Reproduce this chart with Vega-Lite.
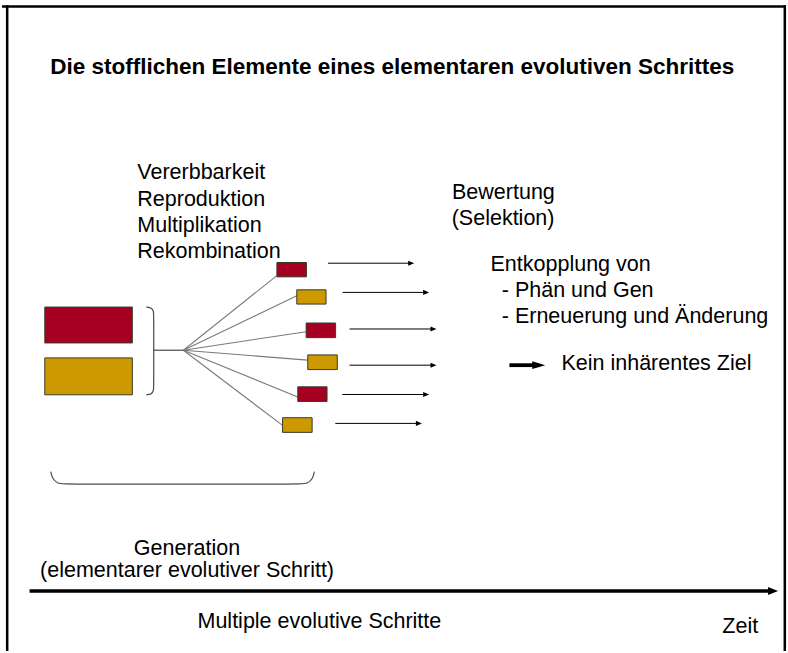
{
  "$schema": "https://vega.github.io/schema/vega-lite/v6.json",
  "width": 788,
  "height": 653,
  "padding": 0,
  "autosize": {"type": "fit", "contains": "padding"},
  "background": "white",
  "config": {"view": {"stroke": null}, "font": "Liberation Sans"},
  "datasets": {
    "frame": [
      {"x": 0, "y": 6.5, "x2": 788, "y2": 6.5},
      {"x": 5.2, "y": 5.3, "x2": 5.2, "y2": 653},
      {"x": 786.8, "y": 5.3, "x2": 786.8, "y2": 653}
    ],
    "rects": [
      {"x": 43, "y": 308, "x2": 131, "y2": 344, "kind": "rot"},
      {"x": 43, "y": 359, "x2": 131, "y2": 396, "kind": "gold"},
      {"x": 276.3, "y": 263.3, "x2": 306, "y2": 277.7, "kind": "rot"},
      {"x": 296.3, "y": 290.7, "x2": 325.7, "y2": 305, "kind": "gold"},
      {"x": 305.7, "y": 324, "x2": 335.3, "y2": 338.7, "kind": "rot"},
      {"x": 307.3, "y": 356, "x2": 337, "y2": 370.7, "kind": "gold"},
      {"x": 297.3, "y": 388, "x2": 326.7, "y2": 402.7, "kind": "rot"},
      {"x": 282, "y": 419, "x2": 311.7, "y2": 433.7, "kind": "gold"}
    ],
    "fan": [
      {"x": 182.3, "y": 351.3, "x2": 276.3, "y2": 276.5},
      {"x": 182.3, "y": 351.3, "x2": 296.3, "y2": 296.6},
      {"x": 182.3, "y": 351.3, "x2": 305.7, "y2": 332.7},
      {"x": 182.3, "y": 351.3, "x2": 307.3, "y2": 361.2},
      {"x": 182.3, "y": 351.3, "x2": 297.3, "y2": 398.2},
      {"x": 182.3, "y": 351.3, "x2": 282, "y2": 426.7}
    ],
    "brackets": [
      {"g": "rechts", "i": 1, "x": 145, "y": 308},
      {"g": "rechts", "i": 2, "x": 150.5, "y": 308.6},
      {"g": "rechts", "i": 3, "x": 152.5, "y": 312.5},
      {"g": "rechts", "i": 4, "x": 152.5, "y": 317},
      {"g": "rechts", "i": 5, "x": 152.5, "y": 387},
      {"g": "rechts", "i": 6, "x": 152.5, "y": 391.5},
      {"g": "rechts", "i": 7, "x": 150.5, "y": 395.4},
      {"g": "rechts", "i": 8, "x": 145, "y": 396},
      {"g": "unten", "i": 1, "x": 49, "y": 473},
      {"g": "unten", "i": 2, "x": 50.5, "y": 480},
      {"g": "unten", "i": 3, "x": 56, "y": 485.3},
      {"g": "unten", "i": 4, "x": 63, "y": 485.6},
      {"g": "unten", "i": 5, "x": 300, "y": 485.6},
      {"g": "unten", "i": 6, "x": 307, "y": 485.3},
      {"g": "unten", "i": 7, "x": 312.5, "y": 480},
      {"g": "unten", "i": 8, "x": 314, "y": 473},
      {"g": "steg", "i": 1, "x": 152.5, "y": 351.3},
      {"g": "steg", "i": 2, "x": 182.3, "y": 351.3}
    ],
    "arrows": [
      {"x": 327.7, "x2": 414.3, "y": 264},
      {"x": 342.3, "x2": 429.3, "y": 293.3},
      {"x": 349.3, "x2": 436.7, "y": 330},
      {"x": 349.3, "x2": 436.7, "y": 366.3},
      {"x": 342, "x2": 429.3, "y": 395.7},
      {"x": 335, "x2": 422, "y": 424.7}
    ],
    "timeaxis": [{"x": 27.7, "x2": 780, "y": 592.7}],
    "thick": [{"x": 510, "x2": 546, "y": 366.3}],
    "title": [{"x": 48.5, "y": 74, "text": "Die stofflichen Elemente eines elementaren evolutiven Schrittes"}],
    "textLeft": [
      {"x": 136, "y": 180, "text": "Vererbbarkeit"},
      {"x": 136, "y": 206.5, "text": "Reproduktion"},
      {"x": 136, "y": 233, "text": "Multiplikation"},
      {"x": 136, "y": 259, "text": "Rekombination"},
      {"x": 452.3, "y": 199.3, "text": "Bewertung"},
      {"x": 452, "y": 225.6, "text": "(Selektion)"},
      {"x": 491, "y": 271.5, "text": "Entkopplung von"},
      {"x": 502.3, "y": 297.7, "text": "- Phän und Gen"},
      {"x": 502.3, "y": 324, "text": "- Erneuerung und Änderung"},
      {"x": 562.3, "y": 371, "text": "Kein inhärentes Ziel"}
    ],
    "textCenter": [
      {"x": 186, "y": 557, "text": "Generation"},
      {"x": 186, "y": 579, "text": "(elementarer evolutiver Schritt)"},
      {"x": 319, "y": 630, "text": "Multiple evolutive Schritte"},
      {"x": 742, "y": 634.5, "text": "Zeit"}
    ]
  },
  "encoding": {
    "x": {"field": "x", "type": "quantitative", "axis": null, "scale": {"domain": [0, 788], "nice": false, "zero": false}},
    "y": {"field": "y", "type": "quantitative", "axis": null, "scale": {"domain": [0, 653], "nice": false, "zero": false, "reverse": true}}
  },
  "layer": [
    {
      "data": {"name": "frame"},
      "mark": {"type": "rule", "color": "black", "strokeWidth": 2.5, "strokeCap": "butt"},
      "encoding": {"x2": {"field": "x2"}, "y2": {"field": "y2"}}
    },
    {
      "data": {"name": "fan"},
      "mark": {"type": "rule", "color": "#7a7a7a", "strokeWidth": 1.1},
      "encoding": {"x2": {"field": "x2"}, "y2": {"field": "y2"}}
    },
    {
      "data": {"name": "brackets"},
      "mark": {"type": "line", "interpolate": "basis", "color": "#4a4a4a", "strokeWidth": 1.2},
      "encoding": {"detail": {"field": "g"}, "order": {"field": "i", "type": "quantitative"}}
    },
    {
      "data": {"name": "rects"},
      "mark": {"type": "rect", "stroke": "#3a3a2a", "strokeWidth": 1},
      "encoding": {
        "x2": {"field": "x2"},
        "y2": {"field": "y2"},
        "fill": {"field": "kind", "type": "nominal", "legend": null, "scale": {"domain": ["rot", "gold"], "range": ["#A50021", "#CC9900"]}}
      }
    },
    {
      "data": {"name": "arrows"},
      "mark": {"type": "rule", "color": "black", "strokeWidth": 1, "x2Offset": -3},
      "encoding": {"x2": {"field": "x2"}}
    },
    {
      "data": {"name": "arrows"},
      "mark": {"type": "point", "shape": "M-2,-0.85L0,0L-2,0.85Z", "filled": true, "color": "black", "size": 36, "opacity": 1, "strokeWidth": 0},
      "encoding": {"x": {"field": "x2", "type": "quantitative"}}
    },
    {
      "data": {"name": "timeaxis"},
      "mark": {"type": "rule", "color": "black", "strokeWidth": 3.5, "x2Offset": -5},
      "encoding": {"x2": {"field": "x2"}}
    },
    {
      "data": {"name": "timeaxis"},
      "mark": {"type": "point", "shape": "M-2,-0.8L0,0L-2,0.8Z", "filled": true, "color": "black", "size": 100, "opacity": 1, "strokeWidth": 0},
      "encoding": {"x": {"field": "x2", "type": "quantitative"}}
    },
    {
      "data": {"name": "thick"},
      "mark": {"type": "rule", "color": "black", "strokeWidth": 3.8, "x2Offset": -6},
      "encoding": {"x2": {"field": "x2"}}
    },
    {
      "data": {"name": "thick"},
      "mark": {"type": "point", "shape": "M-2,-0.6L0,0L-2,0.6Z", "filled": true, "color": "black", "size": 169, "opacity": 1, "strokeWidth": 0},
      "encoding": {"x": {"field": "x2", "type": "quantitative"}}
    },
    {
      "data": {"name": "title"},
      "mark": {"type": "text", "align": "left", "baseline": "alphabetic", "fontSize": 22.5, "fontWeight": "bold", "color": "black"},
      "encoding": {"text": {"field": "text"}}
    },
    {
      "data": {"name": "textLeft"},
      "mark": {"type": "text", "align": "left", "baseline": "alphabetic", "fontSize": 21.5, "color": "black"},
      "encoding": {"text": {"field": "text"}}
    },
    {
      "data": {"name": "textCenter"},
      "mark": {"type": "text", "align": "center", "baseline": "alphabetic", "fontSize": 21.5, "color": "black"},
      "encoding": {"text": {"field": "text"}}
    }
  ]
}
